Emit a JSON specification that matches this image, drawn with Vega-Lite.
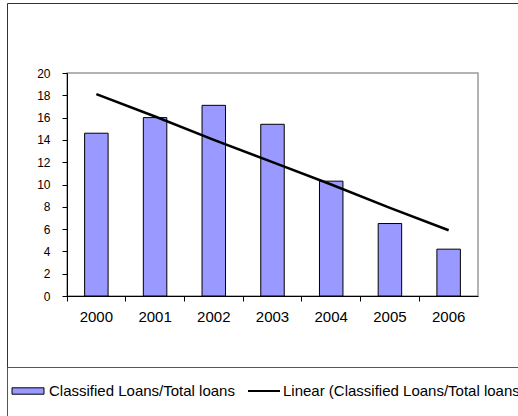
{
  "$schema": "https://vega.github.io/schema/vega-lite/v6.json",
  "width": 411,
  "height": 223,
  "autosize": {"type": "none"},
  "padding": {"left": 67, "top": 73, "right": 40, "bottom": 120},
  "background": "white",
  "config": {
    "view": {"stroke": "#9a9a9a", "strokeWidth": 1.5},
    "font": "Liberation Sans",
    "axisY": {
      "title": null,
      "values": [0, 2, 4, 6, 8, 10, 12, 14, 16, 18, 20],
      "labelOverlap": false,
      "grid": false,
      "tickSize": 5,
      "labelPadding": 12,
      "labelFontSize": 12,
      "labelColor": "#000",
      "domainColor": "#000",
      "tickColor": "#000",
      "labelFont": "Liberation Sans"
    }
  },
  "data": {
    "values": [
      {"year": "2000", "value": 14.6, "trend": 18.1},
      {"year": "2001", "value": 16.0, "trend": 16.1},
      {"year": "2002", "value": 17.1, "trend": 14.0},
      {"year": "2003", "value": 15.4, "trend": 12.0},
      {"year": "2004", "value": 10.3, "trend": 10.0},
      {"year": "2005", "value": 6.5, "trend": 7.9},
      {"year": "2006", "value": 4.2, "trend": 5.9}
    ]
  },
  "encoding": {
    "x": {
      "field": "year",
      "type": "ordinal",
      "scale": {"paddingInner": 0, "paddingOuter": 0},
      "axis": {
        "title": null,
        "labelAngle": 0,
        "bandPosition": 0,
        "tickSize": 5,
        "labelPadding": 8,
        "labelFontSize": 15,
        "labelColor": "#000",
        "domainColor": "#000",
        "tickColor": "#000",
        "labelFont": "Liberation Sans"
      }
    }
  },
  "layer": [
    {
      "mark": {"type": "bar", "width": {"band": 0.4}, "stroke": "#000", "strokeWidth": 1},
      "encoding": {
        "y": {
          "field": "value",
          "type": "quantitative",
          "scale": {"domain": [0, 20], "nice": false},
          "axis": {"title": null, "values": [0, 2, 4, 6, 8, 10, 12, 14, 16, 18, 20], "labelOverlap": false}
        },
        "fill": {
          "datum": "Classified Loans/Total loans",
          "scale": {"range": ["#9999FF"]},
          "legend": {
            "orient": "none",
            "legendX": -60,
            "legendY": -70,
            "title": "\u200b\u00a0\u00a0\u00a0\u00a0\u00a0\u00a0\u00a0\u00a0\u00a0\u00a0\u00a0\u00a0\u00a0\u00a0\u00a0\u00a0\u00a0\u00a0\u00a0\u00a0\u00a0\u00a0\u00a0\u00a0\u00a0\u00a0\u00a0\u00a0\u00a0\u00a0\u00a0\u00a0\u00a0\u00a0\u00a0\u00a0\u00a0\u00a0\u00a0\u00a0\u00a0\u00a0\u00a0\u00a0\u00a0\u00a0\u00a0\u00a0\u00a0\u00a0\u00a0\u00a0\u00a0\u00a0\u00a0\u00a0\u00a0\u00a0\u00a0\u00a0\u00a0\u00a0\u00a0\u00a0\u00a0\u00a0\u00a0\u00a0\u00a0\u00a0\u00a0\u00a0\u00a0\u00a0\u00a0\u00a0\u00a0\u00a0\u00a0\u00a0\u00a0\u00a0\u00a0\u00a0\u00a0\u00a0\u00a0\u00a0\u00a0\u00a0\u00a0\u00a0\u00a0\u00a0\u00a0\u00a0\u00a0\u00a0\u00a0\u00a0\u00a0\u00a0\u00a0\u00a0\u00a0\u00a0\u00a0\u00a0\u00a0\u00a0\u00a0\u00a0\u00a0\u00a0\u00a0\u00a0\u00a0\u00a0\u00a0\u00a0\u00a0\u00a0\u00a0\u00a0\u00a0\u00a0\u00a0\u00a0\u00a0\u00a0\u00a0\u00a0\u00a0\u00a0\u00a0\u00a0\u00a0\u00a0\u00a0\u00a0\u00a0\u00a0\u200b",
            "titleFont": "Liberation Sans",
            "titleFontSize": 10,
            "titleLimit": 3000,
            "titleOrient": "top",
            "titlePadding": 290.5,
            "padding": 80,
            "strokeColor": "#333",
            "symbolType": "M-8,-1.6H8V1.6H-8Z",
            "symbolSize": 16,
            "symbolStrokeColor": "#000",
            "symbolStrokeWidth": 1,
            "symbolOffset": -66.5,
            "labelOffset": 13.5,
            "labelFontSize": 15,
            "labelColor": "#000",
            "labelLimit": 1000,
            "labelFont": "Liberation Sans"
          }
        }
      }
    },
    {
      "mark": {"type": "line", "strokeWidth": 2.5},
      "encoding": {
        "y": {
          "field": "trend",
          "type": "quantitative",
          "axis": {"title": null, "values": [0, 2, 4, 6, 8, 10, 12, 14, 16, 18, 20], "labelOverlap": false}
        },
        "stroke": {
          "datum": "Linear (Classified Loans/Total loans)",
          "scale": {"range": ["#000000"]},
          "legend": {
            "orient": "none",
            "legendX": -60,
            "legendY": 294,
            "title": null,
            "padding": 16.5,
            "strokeColor": "#555",
            "symbolType": "M-8,0H8",
            "symbolSize": 16,
            "symbolStrokeWidth": 2,
            "symbolOffset": 233,
            "labelOffset": 11.5,
            "labelFontSize": 15,
            "labelColor": "#000",
            "labelLimit": 1000,
            "labelFont": "Liberation Sans"
          }
        }
      }
    }
  ]
}
